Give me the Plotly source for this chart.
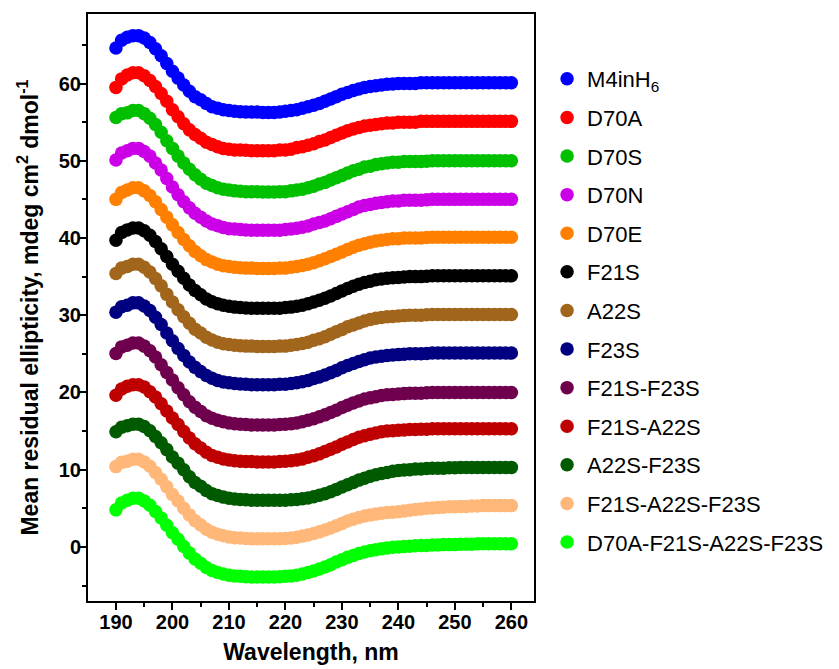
import plotly.graph_objects as go

wavelength = list(range(190, 261))

names = ["M4inH<sub>6</sub>", "D70A", "D70S", "D70N", "D70E", "F21S", "A22S", "F23S",
         "F21S-F23S", "F21S-A22S", "A22S-F23S", "F21S-A22S-F23S", "D70A-F21S-A22S-F23S"]

colors = ["#0000FF", "#FF0000", "#00C000", "#CC00E6", "#FF8000", "#000000", "#A1661C",
          "#000080", "#6E004E", "#BF0000", "#005A00", "#FFB879", "#00FF00"]

m4inh6 = [64.6, 65.6, 66.0, 66.2, 66.2, 65.9, 65.3, 64.5, 63.6, 62.6,
          61.6, 60.7, 59.8, 59.0, 58.3, 57.9, 57.4, 57.0, 56.8, 56.6,
          56.5, 56.4, 56.35, 56.3, 56.3, 56.3, 56.25, 56.25, 56.25, 56.3,
          56.4, 56.5, 56.6, 56.8, 57.0, 57.2, 57.4, 57.7, 58.0, 58.3,
          58.6, 58.85, 59.1, 59.3, 59.5, 59.6, 59.7, 59.8, 59.9, 59.95,
          60.0, 60.0, 60.0, 60.0, 60.1, 60.1, 60.1, 60.1, 60.1, 60.1,
          60.1, 60.1, 60.1, 60.1, 60.1, 60.1, 60.1, 60.1, 60.1, 60.1,
          60.1]

d70a = [59.5, 60.6, 61.1, 61.4, 61.4, 61.0, 60.4, 59.6, 58.7, 57.7,
        56.6, 55.7, 54.8, 54.0, 53.4, 52.9, 52.4, 52.1, 51.8, 51.6,
        51.5, 51.4, 51.4, 51.35, 51.3, 51.3, 51.3, 51.3, 51.3, 51.4,
        51.4, 51.5, 51.7, 51.8, 52.0, 52.2, 52.5, 52.7, 53.0, 53.3,
        53.6, 53.9, 54.1, 54.3, 54.5, 54.6, 54.7, 54.8, 54.9, 54.9,
        55.0, 55.0, 55.0, 55.0, 55.1, 55.1, 55.1, 55.1, 55.1, 55.1,
        55.1, 55.1, 55.1, 55.1, 55.1, 55.1, 55.1, 55.1, 55.1, 55.1,
        55.1]

d70s = [55.6, 56.1, 56.2, 56.5, 56.5, 56.1, 55.5, 54.7, 53.7, 52.6,
        51.6, 50.6, 49.7, 48.9, 48.2, 47.6, 47.1, 46.8, 46.5, 46.3,
        46.2, 46.1, 46.05, 46.0, 46.0, 46.0, 45.95, 45.95, 45.95, 46.0,
        46.0, 46.1, 46.2, 46.3, 46.5, 46.7, 47.0, 47.2, 47.5, 47.8,
        48.1, 48.4, 48.7, 48.9, 49.2, 49.3, 49.5, 49.6, 49.7, 49.8,
        49.8, 49.9, 49.9, 49.9, 49.9, 49.95, 50.0, 50.0, 50.0, 50.0,
        50.0, 50.0, 50.0, 50.0, 50.0, 50.0, 50.0, 50.0, 50.0, 50.0,
        50.0]

d70n = [50.1, 51.0, 51.3, 51.6, 51.6, 51.2, 50.6, 49.7, 48.8, 47.7,
        46.6, 45.6, 44.7, 43.9, 43.2, 42.7, 42.2, 41.8, 41.6, 41.35,
        41.2, 41.15, 41.1, 41.05, 41.0, 41.0, 41.0, 41.0, 41.0, 41.0,
        41.1, 41.15, 41.25, 41.4, 41.55, 41.8, 42.0, 42.2, 42.5, 42.8,
        43.1, 43.4, 43.7, 44.0, 44.2, 44.35, 44.5, 44.6, 44.7, 44.8,
        44.8, 44.9, 44.9, 44.9, 44.9, 44.95, 45.0, 45.0, 45.0, 45.0,
        45.0, 45.0, 45.0, 45.0, 45.0, 45.0, 45.0, 45.0, 45.0, 45.0,
        45.0]

d70e = [45.0, 45.9, 46.2, 46.5, 46.5, 46.1, 45.5, 44.7, 43.7, 42.7,
        41.7, 40.7, 39.8, 39.0, 38.25, 37.7, 37.2, 36.9, 36.6, 36.4,
        36.3, 36.2, 36.15, 36.1, 36.1, 36.05, 36.05, 36.05, 36.05, 36.1,
        36.1, 36.2, 36.3, 36.45, 36.6, 36.8, 37.05, 37.3, 37.6, 37.9,
        38.2, 38.5, 38.8, 39.05, 39.25, 39.45, 39.6, 39.7, 39.8, 39.9,
        39.9, 40.0, 40.0, 40.0, 40.0, 40.05, 40.1, 40.1, 40.1, 40.1,
        40.1, 40.1, 40.1, 40.1, 40.1, 40.1, 40.1, 40.1, 40.1, 40.1,
        40.1]

f21s = [39.7, 40.7, 41.05, 41.3, 41.3, 40.95, 40.35, 39.55, 38.6, 37.6,
        36.6, 35.7, 34.8, 33.9, 33.2, 32.65, 32.1, 31.75, 31.5, 31.3,
        31.15, 31.05, 31.0, 30.95, 30.9, 30.9, 30.9, 30.9, 30.9, 30.9,
        31.0, 31.05, 31.15, 31.3, 31.5, 31.7, 31.95, 32.2, 32.5, 32.8,
        33.15, 33.45, 33.75, 34.0, 34.25, 34.4, 34.6, 34.7, 34.8, 34.85,
        34.9, 34.95, 35.0, 35.0, 35.0, 35.05, 35.1, 35.1, 35.1, 35.1,
        35.1, 35.1, 35.1, 35.1, 35.1, 35.1, 35.1, 35.1, 35.1, 35.1,
        35.1]

a22s = [35.4, 36.1, 36.3, 36.6, 36.6, 36.2, 35.6, 34.75, 33.8, 32.7,
        31.7, 30.7, 29.8, 28.95, 28.2, 27.7, 27.15, 26.8, 26.5, 26.3,
        26.2, 26.1, 26.05, 26.0, 26.0, 25.95, 25.95, 25.95, 25.95, 26.0,
        26.0, 26.1, 26.2, 26.35, 26.5, 26.75, 26.95, 27.2, 27.55, 27.85,
        28.15, 28.5, 28.75, 29.0, 29.25, 29.45, 29.6, 29.7, 29.8, 29.85,
        29.9, 29.95, 30.0, 30.0, 30.0, 30.05, 30.1, 30.1, 30.1, 30.1,
        30.1, 30.1, 30.1, 30.1, 30.1, 30.1, 30.1, 30.1, 30.1, 30.1,
        30.1]

f23s = [30.4, 31.1, 31.3, 31.6, 31.6, 31.2, 30.6, 29.75, 28.8, 27.7,
        26.7, 25.7, 24.8, 23.95, 23.25, 22.7, 22.2, 21.85, 21.55, 21.35,
        21.25, 21.15, 21.1, 21.05, 21.0, 21.0, 21.0, 21.0, 21.0, 21.05,
        21.05, 21.15, 21.25, 21.4, 21.55, 21.8, 22.0, 22.25, 22.55, 22.85,
        23.2, 23.5, 23.75, 24.0, 24.25, 24.45, 24.6, 24.7, 24.8, 24.85,
        24.9, 24.95, 25.0, 25.0, 25.0, 25.05, 25.1, 25.1, 25.1, 25.1,
        25.1, 25.1, 25.1, 25.1, 25.1, 25.1, 25.1, 25.1, 25.1, 25.1,
        25.1]

f21s_f23s = [25.05, 25.9, 26.1, 26.4, 26.4, 26.0, 25.4, 24.6, 23.6, 22.6,
             21.6, 20.6, 19.7, 18.8, 18.1, 17.55, 17.0, 16.65, 16.4, 16.2,
             16.05, 15.95, 15.9, 15.85, 15.8, 15.8, 15.8, 15.8, 15.8, 15.85,
             15.9, 15.95, 16.05, 16.2, 16.4, 16.6, 16.85, 17.1, 17.4, 17.7,
             18.05, 18.35, 18.65, 18.9, 19.15, 19.3, 19.45, 19.6, 19.7, 19.75,
             19.8, 19.85, 19.9, 19.9, 19.9, 19.95, 20.0, 20.0, 20.0, 20.0,
             20.0, 20.0, 20.0, 20.0, 20.0, 20.0, 20.0, 20.0, 20.0, 20.0,
             20.0]

f21s_a22s = [19.65, 20.45, 20.8, 21.0, 21.0, 20.7, 20.1, 19.4, 18.55, 17.6,
             16.7, 15.85, 14.95, 14.1, 13.35, 12.8, 12.25, 11.85, 11.6, 11.4,
             11.25, 11.15, 11.1, 11.05, 11.05, 11.0, 11.0, 11.0, 11.0, 11.05,
             11.1, 11.15, 11.25, 11.4, 11.6, 11.8, 12.05, 12.35, 12.65, 12.95,
             13.3, 13.6, 13.9, 14.2, 14.4, 14.6, 14.75, 14.9, 15.0, 15.05,
             15.1, 15.15, 15.2, 15.2, 15.25, 15.25, 15.3, 15.3, 15.3, 15.3,
             15.3, 15.3, 15.3, 15.3, 15.3, 15.3, 15.3, 15.3, 15.3, 15.3,
             15.3]

a22s_f23s = [14.9, 15.5, 15.7, 15.9, 15.9, 15.6, 15.05, 14.3, 13.5, 12.6,
             11.65, 10.85, 10.0, 9.1, 8.35, 7.85, 7.3, 6.9, 6.65, 6.45,
             6.3, 6.2, 6.15, 6.1, 6.05, 6.05, 6.05, 6.05, 6.05, 6.05,
             6.05, 6.1, 6.15, 6.25, 6.35, 6.5, 6.7, 6.9, 7.15, 7.45,
             7.75, 8.05, 8.35, 8.65, 8.9, 9.15, 9.35, 9.5, 9.65, 9.8,
             9.9, 9.95, 10.0, 10.1, 10.1, 10.15, 10.2, 10.2, 10.2, 10.25,
             10.25, 10.3, 10.3, 10.3, 10.3, 10.3, 10.3, 10.3, 10.3, 10.3,
             10.3]

f21s_a22s_f23s = [10.4, 10.95, 11.1, 11.35, 11.35, 11.0, 10.45, 9.65, 8.75, 7.8,
                  6.8, 5.95, 5.0, 4.15, 3.4, 2.85, 2.3, 1.9, 1.65, 1.45,
                  1.3, 1.2, 1.15, 1.1, 1.05, 1.05, 1.05, 1.05, 1.05, 1.05,
                  1.1, 1.15, 1.25, 1.4, 1.55, 1.75, 1.95, 2.2, 2.45, 2.75,
                  3.05, 3.35, 3.6, 3.8, 4.0, 4.15, 4.25, 4.35, 4.45, 4.5,
                  4.55, 4.65, 4.75, 4.85, 4.9, 5.0, 5.05, 5.1, 5.15, 5.2,
                  5.2, 5.25, 5.25, 5.3, 5.3, 5.35, 5.35, 5.35, 5.35, 5.35,
                  5.35]

d70a_f21s_a22s_f23s = [4.8, 5.7, 6.05, 6.3, 6.3, 5.95, 5.4, 4.6, 3.75, 2.8,
                       1.85, 1.0, 0.05, -0.8, -1.55, -2.1, -2.65, -3.05, -3.3, -3.5,
                       -3.65, -3.75, -3.8, -3.85, -3.9, -3.9, -3.9, -3.9, -3.9, -3.85,
                       -3.8, -3.75, -3.65, -3.5, -3.3, -3.1, -2.85, -2.6, -2.3, -1.95,
                       -1.65, -1.35, -1.1, -0.85, -0.65, -0.5, -0.35, -0.25, -0.15, -0.05,
                       0.0, 0.05, 0.1, 0.15, 0.2, 0.2, 0.25, 0.25, 0.3, 0.3,
                       0.3, 0.35, 0.35, 0.35, 0.4, 0.4, 0.4, 0.4, 0.4, 0.4,
                       0.4]

series = [m4inh6, d70a, d70s, d70n, d70e, f21s, a22s, f23s,
          f21s_f23s, f21s_a22s, a22s_f23s, f21s_a22s_f23s, d70a_f21s_a22s_f23s]

for s in series:
    assert len(s) == len(wavelength), len(s)

FONT = "Liberation Sans, Arial, sans-serif"

fig = go.Figure()
for i, (name, col, vals) in enumerate(zip(names, colors, series)):
    fig.add_trace(go.Scatter(
        x=wavelength, y=vals, name=name, mode="markers",
        legendgroup="g%d" % i,
        marker=dict(color=col, size=13.5, line=dict(width=0)),
    ))

axis_common = dict(
    showline=True, linecolor="black", linewidth=2, mirror=True,
    ticks="outside", ticklen=7, tickwidth=2, tickcolor="black",
    showgrid=False, zeroline=False, automargin=False,
    tickfont=dict(family=FONT, size=20, color="black", weight="bold"),
)

fig.update_layout(
    width=839, height=669,
    margin=dict(l=88, r=304, t=14, b=68),
    plot_bgcolor="white", paper_bgcolor="white",
    xaxis=dict(
        range=[185.05, 264], dtick=10, tick0=190,
        minor=dict(dtick=5, tick0=185, ticks="outside", ticklen=4, tickwidth=2, tickcolor="black"),
        ticklabelstandoff=-5,
        title=dict(text="Wavelength, nm", font=dict(family=FONT, size=23, color="black", weight="bold"), standoff=12),
        **axis_common,
    ),
    yaxis=dict(
        range=[-7, 69], dtick=10, tick0=0,
        minor=dict(dtick=5, tick0=0, ticks="outside", ticklen=4, tickwidth=2, tickcolor="black"),
        ticklabelstandoff=-6,
        title=dict(text="Mean residual ellipticity, mdeg cm<sup>2</sup> dmol<sup>-1</sup>",
                   font=dict(family=FONT, size=23, color="black", weight="bold"), standoff=14),
        **axis_common,
    ),
    legend=dict(
        x=1.027, xanchor="left", y=0.925, yanchor="top",
        font=dict(family=FONT, size=22, color="black"),
        tracegroupgap=7, bgcolor="rgba(0,0,0,0)", itemsizing="trace",
    ),
    showlegend=True,
)

fig.write_html("out.html")
